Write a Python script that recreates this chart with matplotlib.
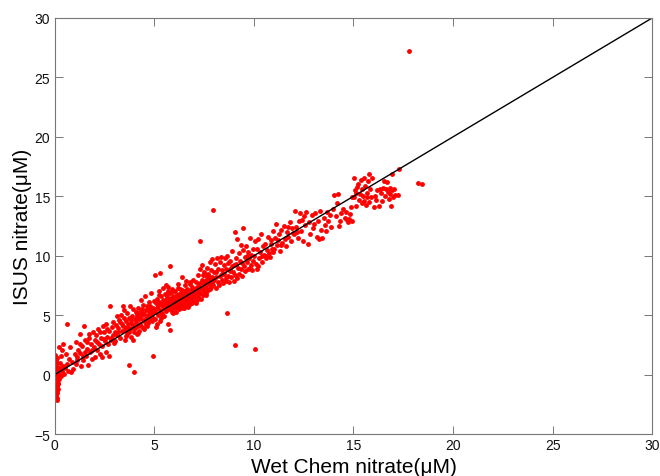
import numpy as np
import matplotlib
matplotlib.use("Agg")
import matplotlib.pyplot as plt

plt.rcParams['font.family'] = ['Liberation Sans', 'DejaVu Sans']

# ==== 데이터 ====
# x ~ 0 근처의 세로 줄
streak_x = [0.02, 0.05, 0.0, 0.08, 0.03, 0.1, 0.0, 0.06, 0.12, 0.02, 0.07, 0.15, 0.0, 0.04, 0.1, 0.18,
            0.01, 0.06, 0.13, 0.03, 0.09, 0.2, 0.0, 0.05, 0.14, 0.02, 0.08, 0.17, 0.04, 0.11, 0.0, 0.07,
            0.15, 0.03, 0.1, 0.05, 0.12, 0.02, 0.08, 0.04, 0.1, 0.06, 0.12, 0.09, 0.16, 0.22, 0.19, 0.25,
            0.01, 0.13]
streak_y = [1.65, 1.48, 1.3, 1.2, 1.05, 0.95, 0.85, 0.72, 0.65, 0.55, 0.45, 0.38, 0.3, 0.2, 0.12, 0.05,
            -0.02, -0.1, -0.18, -0.25, -0.33, -0.4, -0.45, -0.52, -0.6, -0.68, -0.75, -0.82, -0.9, -0.98,
            -1.05, -1.12, -1.2, -1.3, -1.38, -1.47, -1.55, -1.65, -1.75, -1.85, -1.95, -2.05, -2.15, -1.6,
            -0.3, 0.1, -0.7, -0.2, 1.55, 1.4]

low_x = [0.3, 0.35, 0.4, 0.45, 0.5, 0.55, 0.62, 0.7, 0.85, 0.95, 0.28, 0.33, 0.38, 0.25, 0.42, 0.58,
         0.64, 0.75, 0.8, 0.9,
         1.02, 1.06, 1.1, 1.15, 1.2, 1.28, 1.3, 1.35, 1.4, 1.45, 1.5, 1.52, 1.58, 1.62, 1.68, 1.72,
         1.75, 1.8, 1.85, 1.9, 1.95, 1.98, 1.3, 1.55, 1.12, 1.88, 1.65, 1.42,
         2.02, 2.05, 2.1, 2.15, 2.2, 2.25, 2.3, 2.35, 2.4, 2.45, 2.5, 2.55, 2.57, 2.6, 2.65, 2.7,
         2.75, 2.79, 2.82, 2.88, 2.92, 2.97, 2.3, 2.48, 2.62, 2.85, 2.15, 2.72, 2.4, 2.95,
         3.02, 3.05, 3.1, 3.12, 3.15, 3.2, 3.25, 3.3, 3.35, 3.38, 3.4, 3.45, 3.5, 3.52, 3.55, 3.6,
         3.62, 3.65, 3.7, 3.72, 3.74, 3.75, 3.8, 3.82, 3.85, 3.88, 3.9, 3.92, 3.95, 3.98, 3.3, 3.48,
         3.58, 3.68, 3.78, 3.18, 3.42, 3.96, 3.86, 3.6,
         4.01, 4.02, 4.05, 4.08, 4.1, 4.12, 4.15, 4.18, 4.2, 4.22, 4.25, 4.28, 4.3, 4.32, 4.35, 4.38,
         4.4, 4.42, 4.45, 4.48, 4.5, 4.52, 4.55, 4.58, 4.6, 4.62, 4.65, 4.68, 4.7, 4.72, 4.75, 4.78,
         4.8, 4.82, 4.85, 4.88, 4.9, 4.92, 4.94, 4.96, 4.98, 4.12, 4.36, 4.58, 4.76, 4.26, 4.46, 4.66,
         4.86, 4.2]
low_y = [0.6, -0.1, 0.3, 0.75, 0.1, 0.55, 0.9, 0.35, 0.2, 0.5, 0.95, 1.6, 2.05, 2.3, 2.55, 1.75,
         4.27, 1.3, 2.3, 1.1,
         1.7, 2.72, 0.9, 1.45, 2.1, 3.42, 1.8, 0.7, 2.4, 1.2, 4.07, 2.9, 1.6, 2.2, 0.85, 3.1,
         3.42, 1.95, 2.6, 1.35, 3.6, 2.3, 2.6, 1.95, 1.25, 2.05, 2.75, 1.55,
         2.9, 1.5, 3.3, 2.1, 3.85, 2.6, 1.75, 3.1, 2.4, 4.1, 3.55, 2.85, 4.29, 1.95, 3.2, 2.55,
         3.7, 5.8, 2.9, 4.05, 3.35, 2.7, 3.55, 3.0, 3.85, 3.05, 2.75, 1.55, 1.45, 4.4,
         3.6, 2.8, 4.2, 4.9, 3.3, 3.9, 4.6, 3.1, 5.0, 4.3, 3.7, 4.1, 5.45, 2.9, 3.8, 4.5,
         3.4, 5.2, 4.0, 4.8, 0.78, 3.55, 5.8, 4.35, 3.2, 4.9, 3.9, 5.5, 4.2, 3.6, 4.4, 4.75,
         3.25, 4.25, 3.85, 3.55, 5.75, 2.9, 4.6, 3.95,
         0.22, 4.7, 3.9, 5.3, 4.4, 3.45, 5.0, 4.1, 5.6, 4.65, 3.7, 5.25, 4.3, 6.3, 4.9, 4.0,
         5.5, 4.6, 5.9, 3.85, 5.1, 4.45, 6.6, 5.4, 4.75, 4.1, 5.75, 5.05, 4.35, 6.1, 5.35, 4.6,
         5.8, 4.95, 6.9, 5.2, 4.5, 1.59, 5.6, 4.8, 6.2, 4.85, 5.15, 4.2, 5.5, 4.95, 5.2, 4.45,
         5.45, 3.5]

mid_x = [5.02, 5.03, 5.05, 5.08, 5.1, 5.12, 5.15, 5.18, 5.2, 5.22, 5.25, 5.28, 5.3, 5.32, 5.35, 5.38,
         5.4, 5.42, 5.45, 5.48, 5.5, 5.52, 5.55, 5.58, 5.6, 5.62, 5.65, 5.68, 5.7, 5.72, 5.75, 5.78,
         5.8, 5.81, 5.82, 5.85, 5.88, 5.9, 5.92, 5.95, 5.98, 5.15, 5.35, 5.55, 5.75, 5.95, 5.25, 5.45,
         5.65, 5.85, 5.5, 5.7, 5.9, 5.6, 5.4, 5.3, 5.68, 5.88, 5.1, 5.95,
         6.02, 6.04, 6.06, 6.08, 6.1, 6.12, 6.14, 6.16, 6.18, 6.2, 6.22, 6.24, 6.26, 6.28, 6.3, 6.32,
         6.34, 6.36, 6.38, 6.4, 6.42, 6.44, 6.46, 6.48, 6.5, 6.52, 6.54, 6.56, 6.58, 6.6, 6.62, 6.64,
         6.66, 6.68, 6.7, 6.72, 6.74, 6.76, 6.78, 6.8, 6.82, 6.84, 6.86, 6.88, 6.9, 6.92, 6.94, 6.96,
         6.98, 6.1, 6.3, 6.5, 6.7, 6.9, 6.15, 6.35, 6.55, 6.75, 6.95, 6.25, 6.45, 6.65, 6.85, 6.05,
         6.6, 6.2, 6.4, 6.8, 6.0, 6.5,
         7.02, 7.05, 7.08, 7.1, 7.12, 7.15, 7.18, 7.2, 7.22, 7.25, 7.28, 7.29, 7.3, 7.32, 7.35, 7.38,
         7.4, 7.42, 7.45, 7.48, 7.5, 7.52, 7.55, 7.58, 7.6, 7.62, 7.65, 7.68, 7.7, 7.72, 7.75, 7.78,
         7.8, 7.82, 7.85, 7.88, 7.9, 7.92, 7.95, 7.97, 7.98, 7.15, 7.35, 7.55, 7.75, 7.45, 7.65, 7.25,
         7.85, 7.6,
         8.02, 8.05, 8.08, 8.1, 8.15, 8.18, 8.2, 8.25, 8.28, 8.3, 8.35, 8.38, 8.4, 8.45, 8.48, 8.5,
         8.55, 8.58, 8.6, 8.65, 8.66, 8.68, 8.7, 8.75, 8.78, 8.8, 8.85, 8.88, 8.9, 8.95, 8.98, 8.12,
         8.42, 8.62, 8.82]
mid_y = [5.3, 8.39, 4.7, 6.0, 5.5, 4.3, 6.4, 5.8, 5.0, 7.0, 6.1, 8.56, 5.4, 4.8, 6.6, 5.9,
         5.2, 7.3, 6.3, 5.6, 4.9, 6.8, 6.0, 5.35, 7.5, 6.5, 5.8, 4.3, 7.0, 6.2, 5.5, 3.8,
         6.9, 9.14, 6.3, 5.7, 7.2, 6.0, 5.2, 6.6, 5.9, 5.6, 5.1, 5.55, 6.0, 6.2, 6.7, 5.75,
         6.75, 6.45, 6.15, 5.9, 5.55, 6.3, 6.0, 4.55, 7.4, 5.3, 4.05, 7.0,
         6.1, 5.6, 7.0, 6.4, 5.9, 5.3, 6.7, 6.2, 7.6, 5.8, 6.5, 6.0, 5.5, 7.2, 6.3, 5.9,
         6.8, 6.1, 5.7, 8.2, 6.5, 6.0, 5.6, 7.0, 6.4, 5.9, 7.5, 6.2, 5.8, 6.8, 6.3, 5.75,
         7.2, 6.55, 6.0, 6.9, 6.35, 5.9, 7.6, 6.6, 6.1, 7.1, 6.45, 6.0, 7.4, 6.7, 6.2, 8.0,
         6.9, 6.6, 5.6, 5.6, 5.7, 6.3, 5.7, 6.5, 6.6, 6.65, 6.5, 6.8, 6.3, 6.1, 6.8, 6.3,
         7.9, 7.3, 7.1, 7.8, 5.9, 6.9,
         6.5, 7.2, 6.0, 7.8, 6.8, 6.3, 8.4, 7.0, 6.5, 7.5, 8.9, 11.2, 6.9, 7.7, 6.4, 9.2,
         7.2, 8.0, 6.7, 7.6, 8.6, 7.0, 7.9, 6.9, 8.3, 7.4, 9.0, 7.8, 7.1, 8.5, 7.6, 9.5,
         8.0, 7.2, 8.8, 7.7, 9.7, 8.2, 7.5, 13.83, 8.6, 7.4, 7.3, 7.35, 8.2, 8.4, 8.0, 6.8,
         7.4, 6.7,
         8.0, 9.3, 7.3, 8.6, 9.8, 7.8, 8.9, 7.5, 9.5, 8.3, 9.9, 8.0, 8.8, 7.7, 9.2, 8.5,
         9.8, 7.9, 8.9, 10.0, 5.16, 8.3, 9.4, 7.8, 8.7, 9.6, 8.2, 9.1, 10.4, 8.6, 7.9, 8.2,
         8.5, 8.1, 8.9]

high_x = [9.02, 9.04, 9.05, 9.08, 9.1, 9.15, 9.18, 9.2, 9.25, 9.28, 9.3, 9.35, 9.38, 9.4, 9.45, 9.48,
          9.5, 9.55, 9.58, 9.6, 9.65, 9.7, 9.72, 9.75, 9.8, 9.85, 9.88, 9.9, 9.95, 9.98, 9.12, 9.42,
          9.68, 9.82,
          10.02, 10.05, 10.08, 10.1, 10.15, 10.2, 10.25, 10.3, 10.35, 10.4, 10.45, 10.5, 10.55, 10.6,
          10.65, 10.7, 10.75, 10.8, 10.85, 10.9, 10.95, 10.98, 10.22, 10.62, 10.88, 10.42, 10.15,
          11.02, 11.08, 11.12, 11.18, 11.25, 11.3, 11.38, 11.42, 11.5, 11.55, 11.6, 11.65, 11.72,
          11.8, 11.85, 11.9, 11.95, 11.35, 11.7, 11.2,
          12.02, 12.08, 12.12, 12.2, 12.25, 12.3, 12.38, 12.45, 12.5, 12.55, 12.62, 12.7, 12.75,
          12.82, 12.9, 12.95, 12.4, 12.15,
          13.02, 13.08, 13.15, 13.2, 13.3, 13.35, 13.42, 13.5, 13.58, 13.65, 13.72, 13.8, 13.88,
          13.95, 13.28, 13.6,
          14.02, 14.1, 14.2, 14.25, 14.35, 14.45, 14.55, 14.62, 14.7, 14.75, 14.8, 14.85, 14.9,
          14.95, 14.3, 14.65, 14.15,
          15.02, 15.05, 15.1, 15.15, 15.2, 15.25, 15.3, 15.35, 15.4, 15.42, 15.48, 15.52, 15.55,
          15.6, 15.65, 15.7, 15.75, 15.78, 15.8, 15.85, 15.9, 15.95, 15.12, 15.45, 15.68,
          16.05, 16.1, 16.15, 16.2, 16.3, 16.35, 16.4, 16.45, 16.5, 16.55, 16.6, 16.65, 16.7,
          16.75, 16.78, 16.82, 16.85, 16.9, 16.95, 17.0, 17.05, 17.1, 17.25, 17.26, 16.95,
          17.79, 18.23, 18.44]
high_y = [9.2, 2.54, 8.4, 12.0, 9.8, 8.1, 11.4, 9.0, 10.2, 8.5, 9.6, 10.9, 8.9, 9.4, 10.5, 12.3,
          9.1, 9.9, 8.7, 10.8, 9.5, 8.9, 10.3, 9.8, 11.5, 9.2, 10.1, 8.8, 10.6, 9.6, 9.3, 8.3,
          10.0, 9.0,
          10.0, 11.2, 2.17, 9.3, 10.6, 11.4, 9.8, 10.3, 11.8, 9.5, 10.8, 10.1, 11.0, 9.8,
          10.5, 11.6, 10.2, 9.9, 11.0, 10.6, 12.1, 10.3, 9.1, 10.0, 11.3, 10.0, 8.9,
          10.6, 11.5, 12.7, 10.9, 11.8, 10.4, 12.2, 11.1, 12.5, 11.4, 10.8, 12.0, 11.6,
          12.8, 11.2, 12.3, 11.9, 10.9, 12.4, 11.3,
          11.8, 13.8, 12.4, 11.5, 12.9, 13.6, 12.1, 11.2, 13.3, 12.6, 13.7, 11.0, 12.8,
          11.8, 13.4, 12.3, 13.0, 12.0,
          12.7, 13.6, 11.6, 12.9, 13.8, 12.2, 11.5, 13.2, 12.6, 13.7, 12.9, 13.4, 12.4,
          13.9, 11.4, 12.1,
          15.1, 13.3, 15.2, 12.5, 13.6, 13.9, 13.2, 13.7, 12.8, 13.1, 13.5, 14.1, 14.9,
          12.9, 12.9, 13.0, 14.4,
          14.9, 16.5, 15.5, 14.2, 15.8, 16.0, 14.7, 15.2, 16.4, 14.4, 15.0, 16.5, 14.6,
          15.9, 14.3, 15.3, 16.3, 16.84, 14.5, 15.6, 14.9, 16.5, 15.3, 15.6, 14.9,
          14.1, 15.0, 14.7, 15.5, 14.2, 15.6, 15.3, 14.6, 15.7, 16.3, 15.0, 15.6, 16.2,
          15.4, 14.8, 15.7, 15.2, 14.2, 15.5, 14.9, 15.6, 15.1, 15.1, 17.31, 16.9,
          27.18, 16.09, 16.0]

wet_chem = np.array(streak_x + low_x + mid_x + high_x)
isus = np.array(streak_y + low_y + mid_y + high_y)

one_to_one = [0, 30]

# ==== 그리기 ====
fig = plt.figure(figsize=(6.6, 4.77), dpi=100)
ax = fig.add_axes([0.0826, 0.0876, 0.906, 0.873])

ax.plot(wet_chem, isus, 'o', color='#ff0000', ms=3.5, mew=0)
ax.plot(one_to_one, one_to_one, '-', color='black', lw=1.0)

ax.set_xlim(0, 30)
ax.set_ylim(-5, 30)
ax.set_xticks(range(0, 31, 5))
ax.set_yticks(range(-5, 31, 5))
ax.tick_params(direction='in', top=True, right=True, length=5.5, width=0.7,
               labelsize=10, color='#777777', labelcolor='#111111', pad=3)
for s in ax.spines.values():
    s.set_linewidth(0.8)
    s.set_color('#777777')

ax.set_xlabel("Wet Chem nitrate(\u03bcM)", fontsize=15, labelpad=3)
ax.set_ylabel("ISUS nitrate(\u03bcM)", fontsize=15, labelpad=2)

fig.savefig("out.png", dpi=100)
